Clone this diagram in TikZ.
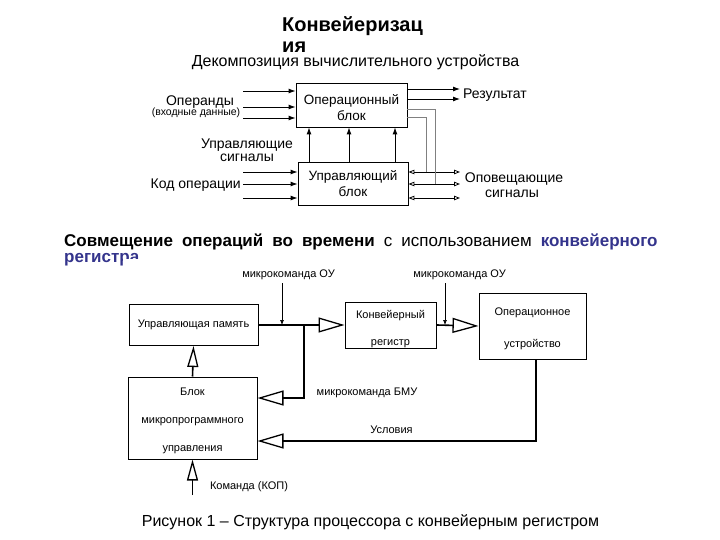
\documentclass[tikz,border=0pt]{standalone}
\usepackage{fontspec}
\setmainfont{Liberation Sans}
\usetikzlibrary{arrows.meta}
\definecolor{headblue}{RGB}{52,52,140}
\newcommand{\myfs}[2]{\fontsize{#1}{#2}\selectfont}
\newcommand{\widespace}{\spaceskip=9pt\relax}
\begin{document}
\begin{tikzpicture}[x=1pt,y=-1pt,
  tbox/.style={draw,line width=0.9pt,inner sep=0pt},
  ttxt/.style={align=center,inner sep=0pt,font=\myfs{13.5}{15.5}},
  tarr/.style={line width=0.9pt,-{Latex[length=7pt,width=5pt]}},
  oarr/.style={line width=0.8pt,{Triangle[open,length=6pt,width=4.5pt]}-{Triangle[open,length=6pt,width=4.5pt]}},
  glin/.style={line width=0.9pt,draw=gray},
  tlbl/.style={font=\myfs{14}{16},inner sep=0pt},
  lbox/.style={draw,line width=1pt,inner sep=0pt},
  ltxt/.style={align=center,inner sep=0pt},
  conn/.style={line width=1.6pt},
  bigh/.style={conn,-{Triangle[open,length=26pt,width=15pt,line width=1.3pt]}},
  bigv/.style={conn,-{Triangle[open,length=21pt,width=11pt,line width=1.3pt]}},
  marr/.style={line width=0.7pt,-{Latex[length=5pt,width=4pt]}},
  lbl/.style={font=\myfs{11}{13},inner sep=0pt},
]
\useasboundingbox (0,0) rectangle (720,540);

% titles
\node[anchor=base west,font=\bfseries\myfs{20}{21},inner sep=0pt] (title) at (282,32) {Конвейеризац};
\node[anchor=base west,font=\bfseries\myfs{20}{21},inner sep=0pt] (title2) at (282,53) {ия};
\node[anchor=base,font=\myfs{16}{18},inner sep=0pt] (sub) at (355.5,67) {Декомпозиция вычислительного устройства};

% top diagram
\node[tbox,minimum width=111pt,minimum height=44pt] (ob) at (351.5,105) {};
\node[ttxt,yshift=-2.5pt] (obt) at (ob.center) {Операционный\\блок};
\node[tbox,minimum width=110pt,minimum height=43pt] (cb) at (353,183.5) {};
\node[ttxt] (cbt) at (cb.center) {Управляющий\\блок};

\foreach \y/\n in {91/a,107/b,118/c}{
  \coordinate (oi\n) at (243,\y);
  \draw[tarr] (oi\n) -- (oi\n -| ob.west);
}
\foreach \y/\n in {89/a,99/b}{
  \coordinate (or\n) at (460,\y);
  \draw[tarr] (or\n -| ob.east) -- (or\n);
}
\foreach \y/\n in {172/a,184/b,198/c}{
  \coordinate (ci\n) at (243,\y);
  \draw[tarr] (ci\n) -- (ci\n -| cb.west);
  \coordinate (co\n) at (460,\y);
  \draw[oarr] (co\n -| cb.east) -- (co\n);
}
\coordinate (g1) at (435,109);
\coordinate (g2) at (426,117);
\draw[glin] (g1 -| ob.east) -- (g1) -- (g1 |- cob);
\draw[glin] (g2 -| ob.east) -- (g2) -- (g2 |- coa);
\foreach \x/\n in {309/a,349/b,395/c}{
  \coordinate (u\n) at (\x,0);
  \draw[tarr] (u\n |- cb.north) -- (u\n |- ob.south);
}

\node[tlbl,anchor=base] (lop) at (200,106) {Операнды};
\node[anchor=base,font=\myfs{10.5}{12},inner sep=0pt] (lop2) at (196,116) {(входные данные)};
\node[tlbl,anchor=base west] (lres) at (463,99) {Результат};
\node[tlbl,anchor=base] (lus1) at (247,149) {Управляющие};
\node[tlbl,anchor=base] (lus2) at (247,162) {сигналы};
\node[tlbl,anchor=base east] (lkod) at (241,189) {Код операции};
\node[tlbl,anchor=base] (lop3) at (514,183) {Оповещающие};
\node[tlbl,anchor=base] (lop4) at (512,198) {сигналы};

% heading
\node[anchor=base west,inner sep=0pt,font=\myfs{17}{19}] (head) at (64,246)
  {\widespace\textbf{Совмещение операций во времени} с использованием \textcolor{headblue}{\textbf{конвейерного}}};
\node[anchor=base west,inner sep=0pt,font=\myfs{17}{19}] (head2) at (64,262)
  {\textcolor{headblue}{\textbf{регистра}}};
\fill[white] (123,259) rectangle (700,500);

% lower diagram
\node[lbox,minimum width=129pt,minimum height=41pt] (um) at (193.5,325) {};
\node[ltxt,font=\myfs{11}{13}] (umt) at (um.center) {Управляющая память};
\node[lbox,minimum width=91pt,minimum height=46pt] (kr) at (390.5,325) {};
\node[ltxt,font=\myfs{11}{27},yshift=-4pt] (krt) at (kr.center) {Конвейерный\\регистр};
\node[lbox,minimum width=107pt,minimum height=66pt] (ou) at (532.5,326) {};
\node[ltxt,font=\myfs{11}{32},yshift=-3pt] (out) at (ou.center) {Операционное\\устройство};
\node[lbox,minimum width=129pt,minimum height=82pt] (bmu) at (192.5,418) {};
\node[ltxt,font=\myfs{11}{28},yshift=-3pt] (bmut) at (bmu.center) {Блок\\микропрограммного\\управления};

\draw[bigh] (um.east) -- (kr.west);
\draw[bigh] (kr.east) -- (ou.west);
\coordinate (j1) at (304,325);
\draw[bigh] (j1) |- ([yshift=20pt]bmu.east);
\draw[bigh] ([xshift=3.5pt]ou.south) |- ([yshift=-23pt]bmu.east);
\draw[bigv] (bmu.north) -- (um.south);
\coordinate (kop) at (192.5,495);
\draw[bigv] (kop) -- (bmu.south);

\coordinate (m1) at (282,283);
\draw[marr] (m1) -- (m1 |- um.east);
\coordinate (m2) at (445,283);
\draw[marr] (m2) -- (m2 |- kr.east);

\node[lbl] (lm1) at (288.5,275) {микрокоманда ОУ};
\node[lbl] (lm2) at (459.5,275) {микрокоманда ОУ};
\node[lbl] (lm3) at (367,393) {микрокоманда БМУ};
\node[lbl] (lusl) at (391.5,430) {Условия};
\node[lbl] (lkop) at (249,487) {Команда (КОП)};

\node[anchor=base,inner sep=0pt,font=\myfs{16}{18}] (cap) at (370.5,526) {Рисунок 1 – Структура процессора с конвейерным регистром};
\end{tikzpicture}
\end{document}
